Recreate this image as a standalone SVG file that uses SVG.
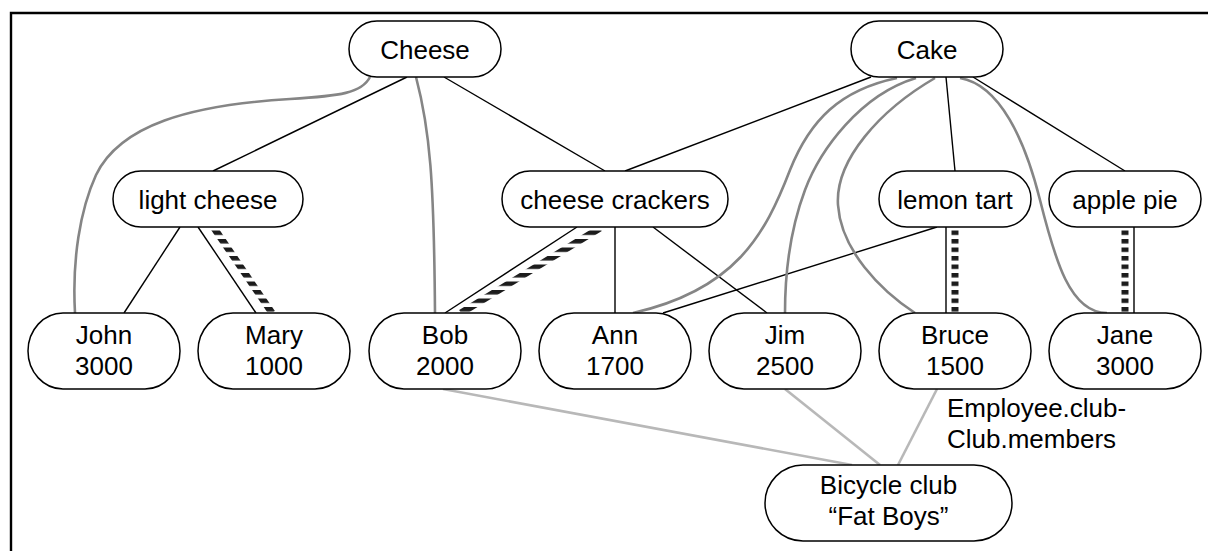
<svg xmlns="http://www.w3.org/2000/svg" width="1208" height="551" viewBox="0 0 1208 551">
  <style>
    .node rect { fill: #ffffff; stroke: #000000; stroke-width: 1.5; }
    .node text { font-family: "Liberation Sans", Arial, sans-serif; font-size: 26px; fill: #000000; text-anchor: middle; }
    .label { font-family: "Liberation Sans", Arial, sans-serif; font-size: 26px; fill: #000000; }
    .tree { stroke: #000000; stroke-width: 1.4; fill: none; }
    .pref { stroke: #858585; stroke-width: 2.6; fill: none; }
    .club { stroke: #b8b8b8; stroke-width: 2.6; fill: none; }
    .hatched { stroke: url(#hatch); stroke-width: 7; fill: none; }
    .frame { stroke: #000000; stroke-width: 2.4; fill: none; }
  </style>
  <defs>
    <!-- horizontal bars used to paint the thick striped links -->
    <pattern id="hatch" patternUnits="userSpaceOnUse" x="0" y="1" width="24" height="8.5">
      <rect x="0" y="0" width="24" height="4.5" fill="#1c1c1c"/>
    </pattern>
  </defs>

  <rect width="1208" height="551" fill="#ffffff"/>
  <!-- frame: top and left edges -->
  <path class="frame" d="M11,551 L11,13 L1208,13"/>

  <g id="connectors">
    <!-- category tree -->
    <line class="tree" x1="407" y1="77" x2="213" y2="171"/>
    <line class="tree" x1="444" y1="77" x2="605" y2="171"/>
    <line class="tree" x1="871" y1="77" x2="625" y2="171"/>
    <line class="tree" x1="946" y1="77" x2="955" y2="171"/>
    <line class="tree" x1="973" y1="77" x2="1125" y2="171"/>
    <line class="tree" x1="180" y1="227" x2="124" y2="313"/>
    <line class="tree" x1="198" y1="227" x2="256" y2="313"/>
    <line class="tree" x1="577" y1="227" x2="445" y2="313"/>
    <line class="tree" x1="615" y1="227" x2="615" y2="313"/>
    <line class="tree" x1="653" y1="227" x2="767" y2="313"/>
    <line class="tree" x1="937" y1="227" x2="663" y2="313"/>
    <line class="tree" x1="946" y1="227" x2="946" y2="313"/>
    <line class="tree" x1="1134" y1="227" x2="1134" y2="313"/>

    <!-- striped links -->
    <line class="hatched" x1="214" y1="228" x2="272" y2="313"/>
    <line class="hatched" x1="600" y1="228" x2="461" y2="313"/>
    <line class="hatched" x1="955" y1="227" x2="955" y2="313"/>
    <line class="hatched" x1="1125" y1="227" x2="1125" y2="313"/>

    <!-- preference curves -->
    <path class="pref" d="M370,77 C362,93 340,96 290,99 C190,105 120,125 96,175 C80,210 72,260 75,313"/>
    <path class="pref" d="M416,77 C430,130 434,180 435,313"/>
    <path class="pref" d="M897,78 C840,90 810,120 790,170 C765,235 735,290 633,313"/>
    <path class="pref" d="M916,78 C860,95 820,150 805,190 C790,230 785,270 785,313"/>
    <path class="pref" d="M935,78 C880,110 835,160 838,205 C841,250 880,290 915,313"/>
    <path class="pref" d="M960,78 C1000,85 1025,140 1040,200 C1055,260 1070,313 1107,313"/>

    <!-- club membership -->
    <line class="club" x1="443" y1="389" x2="852" y2="465"/>
    <line class="club" x1="785" y1="389" x2="880" y2="465"/>
    <line class="club" x1="937" y1="389" x2="898" y2="465"/>
  </g>

  <g id="cheese" class="node">
    <rect x="349" y="21" width="152" height="56" rx="28" ry="28"/>
    <text x="425" y="58.5">Cheese</text>
  </g>
  <g id="cake" class="node">
    <rect x="851" y="21" width="152" height="56" rx="28" ry="28"/>
    <text x="927" y="58.5">Cake</text>
  </g>
  <g id="light-cheese" class="node">
    <rect x="113" y="171" width="190" height="56" rx="28" ry="28"/>
    <text x="208" y="208.5">light cheese</text>
  </g>
  <g id="cheese-crackers" class="node">
    <rect x="502" y="171" width="226" height="56" rx="28" ry="28"/>
    <text x="615" y="208.5">cheese crackers</text>
  </g>
  <g id="lemon-tart" class="node">
    <rect x="879" y="171" width="152" height="56" rx="28" ry="28"/>
    <text x="955" y="208.5">lemon tart</text>
  </g>
  <g id="apple-pie" class="node">
    <rect x="1049" y="171" width="152" height="56" rx="28" ry="28"/>
    <text x="1125" y="208.5">apple pie</text>
  </g>

  <g id="john" class="node">
    <rect x="28" y="313" width="152" height="76" rx="35" ry="38"/>
    <text x="104" y="344">John</text>
    <text x="104" y="375">3000</text>
  </g>
  <g id="mary" class="node">
    <rect x="198" y="313" width="152" height="76" rx="35" ry="38"/>
    <text x="274" y="344">Mary</text>
    <text x="274" y="375">1000</text>
  </g>
  <g id="bob" class="node">
    <rect x="369" y="313" width="152" height="76" rx="35" ry="38"/>
    <text x="445" y="344">Bob</text>
    <text x="445" y="375">2000</text>
  </g>
  <g id="ann" class="node">
    <rect x="539" y="313" width="152" height="76" rx="35" ry="38"/>
    <text x="615" y="344">Ann</text>
    <text x="615" y="375">1700</text>
  </g>
  <g id="jim" class="node">
    <rect x="709" y="313" width="152" height="76" rx="35" ry="38"/>
    <text x="785" y="344">Jim</text>
    <text x="785" y="375">2500</text>
  </g>
  <g id="bruce" class="node">
    <rect x="879" y="313" width="152" height="76" rx="35" ry="38"/>
    <text x="955" y="344">Bruce</text>
    <text x="955" y="375">1500</text>
  </g>
  <g id="jane" class="node">
    <rect x="1049" y="313" width="152" height="76" rx="35" ry="38"/>
    <text x="1125" y="344">Jane</text>
    <text x="1125" y="375">3000</text>
  </g>

  <g id="bicycle-club" class="node">
    <rect x="765" y="465" width="247" height="76" rx="38" ry="38"/>
    <text x="888.5" y="494">Bicycle club</text>
    <text x="888.5" y="525">“Fat Boys”</text>
  </g>

  <g id="club-label">
    <text class="label" x="947" y="417">Employee.club-</text>
    <text class="label" x="947" y="448">Club.members</text>
  </g>
</svg>
